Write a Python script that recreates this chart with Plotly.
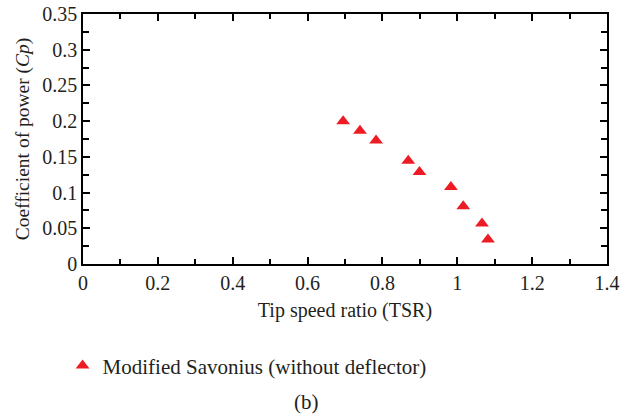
import plotly.graph_objects as go

tsr = [0.695, 0.740, 0.783, 0.869, 0.899, 0.983, 1.016, 1.066, 1.082]
cp = [0.200, 0.1865, 0.173, 0.1446, 0.1288, 0.1079, 0.0808, 0.0566, 0.0342]
series_name = "Modified Savonius (without deflector)"

FONT = "Liberation Serif"
RED = "#ED1C24"
TXT = "#231F20"

fig = go.Figure()
fig.add_trace(go.Scatter(
    x=tsr, y=cp, mode="markers", name=series_name,
    marker=dict(symbol="triangle-up", size=12, color=RED),
    showlegend=True,
))

axis_common = dict(
    showline=True, linecolor="black", linewidth=1.5, mirror="allticks",
    ticks="inside", ticklen=7, tickwidth=1.5, tickcolor="black",
    showgrid=False, zeroline=False,
    tickfont=dict(family=FONT, size=20, color=TXT),
)

fig.update_xaxes(
    range=[0, 1.4], dtick=0.2, tick0=0,
    minor=dict(dtick=0.1, ticks="inside", ticklen=5, tickwidth=1.5, tickcolor="black"),
    title=dict(text="Tip speed ratio (TSR)", font=dict(family=FONT, size=20, color=TXT), standoff=10),
    **axis_common,
)
fig.update_yaxes(
    range=[0, 0.35], dtick=0.05, tick0=0,
    minor=dict(dtick=0.025, ticks="inside", ticklen=6, tickwidth=1.5, tickcolor="black"),
    title=dict(text="Coefficient of power (<i>Cp</i>)", font=dict(family=FONT, size=19.5, color=TXT), standoff=7),
    **axis_common,
)

fig.update_layout(
    width=622, height=415,
    margin=dict(l=82.5, r=14.5, t=14, b=150.5, autoexpand=False),
    plot_bgcolor="white", paper_bgcolor="white",
    legend=dict(
        x=-0.039, y=-0.325, xanchor="left", yanchor="top",
        orientation="h",
        font=dict(family=FONT, size=21, color=TXT),
        bgcolor="rgba(0,0,0,0)",
    ),
    annotations=[dict(
        text="(b)", xref="paper", yref="paper", x=0.427, y=-0.553,
        xanchor="center", yanchor="middle", showarrow=False,
        font=dict(family=FONT, size=21, color=TXT),
    )],
)

fig.write_html("out.html")
